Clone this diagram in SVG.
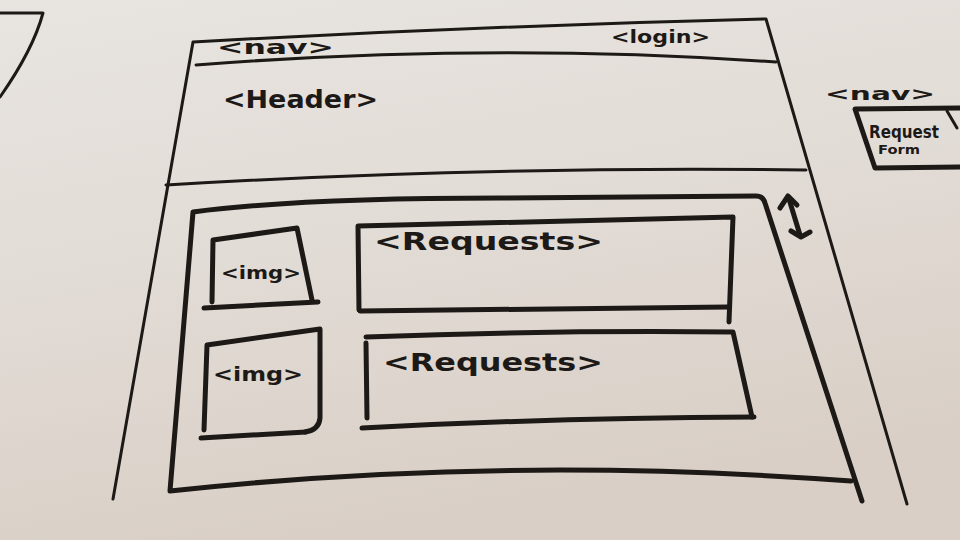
<svg xmlns="http://www.w3.org/2000/svg" width="960" height="540" viewBox="0 0 960 540">
  <defs>
    <linearGradient id="board" x1="0" y1="0" x2="0.3" y2="1">
      <stop offset="0" stop-color="#e8e4e0"/>
      <stop offset="0.5" stop-color="#e2dcd6"/>
      <stop offset="1" stop-color="#d9cfc6"/>
    </linearGradient>
    <style>
      .ink { fill: none; stroke: #1d1916; stroke-linecap: round; stroke-linejoin: round; }
      .thin { stroke-width: 3; }
      .thick { stroke-width: 5; }
      .label { fill: #1d1916; font-family: "DejaVu Sans", "Liberation Sans", sans-serif; font-weight: bold; }
    </style>
  </defs>

  <!-- whiteboard -->
  <rect width="960" height="540" fill="url(#board)"/>

  <!-- partial sketch on the left edge -->
  <g id="left-fragment">
    <path class="ink thin" d="M0,13 L43,13 Q33,50 0,97"/>
  </g>

  <!-- page frame -->
  <g id="page">
    <path class="ink thin" d="M113,499 L193,42 Q480,26 766,19 L907,504"/>
  </g>

  <!-- navigation bar -->
  <g id="nav">
    <path class="ink thin" d="M196,65 Q490,42 776,62"/>
    <text class="label" x="217" y="54" font-size="19" textLength="117" lengthAdjust="spacingAndGlyphs">&lt;nav&gt;</text>
    <text class="label" x="611" y="43" font-size="18" textLength="99" lengthAdjust="spacingAndGlyphs">&lt;login&gt;</text>
  </g>

  <!-- header -->
  <g id="header">
    <path class="ink thin" d="M166,185 Q480,166 806,170"/>
    <text class="label" x="223" y="108" font-size="24" textLength="155" lengthAdjust="spacingAndGlyphs">&lt;Header&gt;</text>
  </g>

  <!-- scrolling content area -->
  <g id="content">
    <path class="ink thick" d="M862,501 L765,203 Q763,196 756,196 L500,198 Q300,198 193,212 L170,491 Q500,455 851,481"/>
  </g>

  <!-- first request row -->
  <g id="img-1">
    <path class="ink thick" d="M212,302 L213,240 L297,228 L312,300"/>
    <path class="ink thick" d="M204,308 Q260,305 318,302"/>
    <text class="label" x="221" y="279" font-size="17" textLength="80" lengthAdjust="spacingAndGlyphs">&lt;img&gt;</text>
  </g>
  <g id="requests-1">
    <path class="ink thick" d="M359,310 L358,226 L733,217 L729,322"/>
    <path class="ink thick" d="M360,311 L728,307"/>
    <text class="label" x="374" y="250" font-size="24" textLength="229" lengthAdjust="spacingAndGlyphs">&lt;Requests&gt;</text>
  </g>

  <!-- second request row -->
  <g id="img-2">
    <path class="ink thick" d="M204,430 L207,345 L320,329 L320,418 Q319,430 305,432"/>
    <path class="ink thick" d="M201,438 L306,432"/>
    <text class="label" x="213" y="381" font-size="20" textLength="90" lengthAdjust="spacingAndGlyphs">&lt;img&gt;</text>
  </g>
  <g id="requests-2">
    <path class="ink thick" d="M367,418 L366,343"/>
    <path class="ink thick" d="M366,337 Q550,330 733,332 L752,417"/>
    <path class="ink thick" d="M362,428 Q550,418 754,417"/>
    <text class="label" x="383" y="371" font-size="24" textLength="220" lengthAdjust="spacingAndGlyphs">&lt;Requests&gt;</text>
  </g>

  <!-- side navigation with request form -->
  <g id="side-nav">
    <text class="label" x="825" y="100" font-size="18" textLength="110" lengthAdjust="spacingAndGlyphs">&lt;nav&gt;</text>
  </g>
  <g id="request-form">
    <path class="ink thick" d="M960,108 L855,109 L875,168 L960,167"/>
    <path class="ink thin" d="M947,111 L957,128"/>
    <text class="label" x="869" y="138" font-size="17" textLength="70" lengthAdjust="spacingAndGlyphs">Request</text>
    <text class="label" x="878" y="154" font-size="13" textLength="42" lengthAdjust="spacingAndGlyphs">Form</text>
  </g>

  <!-- scroll indicator -->
  <g id="connectors">
    <path class="ink thick" d="M789,199 L800,235"/>
    <path class="ink thick" d="M780,208 L788,196 L797,205"/>
    <path class="ink thick" d="M791,231 L801,237 L810,232"/>
  </g>
</svg>
